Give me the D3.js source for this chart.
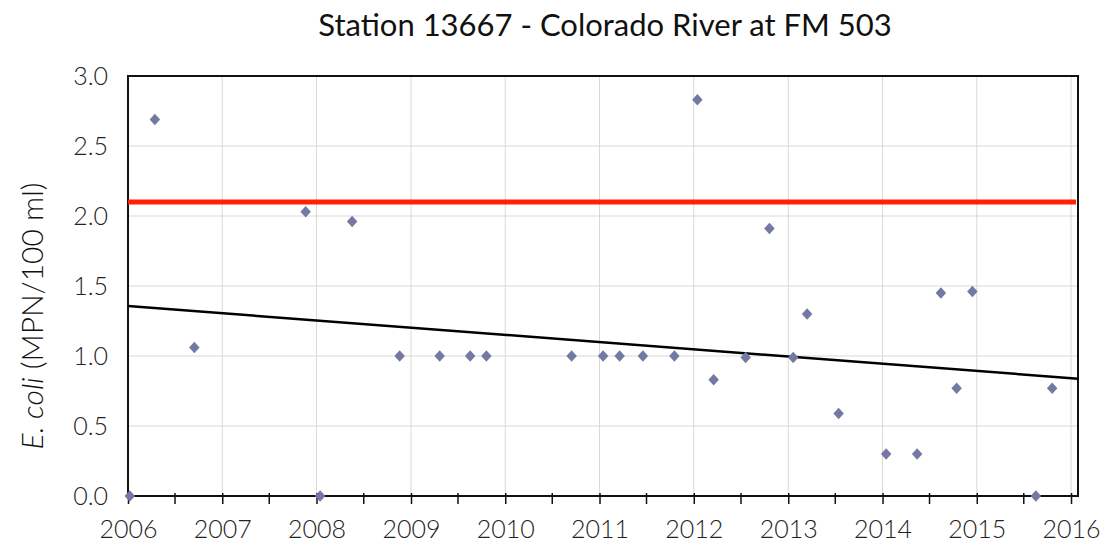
<!DOCTYPE html>
<html lang="en">
<head>
    <meta charset="UTF-8">
    <title>Station 13667 - Colorado River at FM 503</title>
    <style>
        body {
            margin: 0;
            padding: 0;
            background: #fff;
        }

        svg text {
            font-family: Lato, "Open Sans", sans-serif;
            fill: #111;
        }

        .grid line {
            stroke: #d9d9d9;
            stroke-width: 1;
        }

        .axis path, .axis line {
            stroke: #111;
        }

        .axis text {
            font-size: 25px;
            font-weight: 300;
            fill: #222;
        }
    </style>
</head>
<body>
<svg id="chart" width="1120" height="550"></svg>

<script src="https://d3js.org/d3.v7.min.js"></script>
<script>
    // sample dates and log10 E. coli values
    var sampleDates = [
        "2006-01-08", "2006-04-15", "2006-09-15", "2007-11-20", "2008-01-15",
        "2008-05-18", "2008-11-18", "2009-04-22", "2009-08-18", "2009-10-20",
        "2010-09-15", "2011-01-15", "2011-03-20", "2011-06-18", "2011-10-18",
        "2012-01-15", "2012-03-18", "2012-07-20", "2012-10-20", "2013-01-20",
        "2013-03-15", "2013-07-15", "2014-01-15", "2014-05-15", "2014-08-15",
        "2014-10-15", "2014-12-15", "2015-08-18", "2015-10-20"
    ];
    var logValues = [
        0.00, 2.69, 1.06, 2.03, 0.00,
        1.96, 1.00, 1.00, 1.00, 1.00,
        1.00, 1.00, 1.00, 1.00, 1.00,
        2.83, 0.83, 0.99, 1.91, 0.99,
        1.30, 0.59, 0.30, 0.30, 1.45,
        0.77, 1.46, 0.00, 0.77
    ];
    var criterion = 2.1004;               // geometric mean criterion (126 MPN)
    var trendValues = [1.357, 0.838];     // trend line at domain start / end
    var yTicks = [0, 0.5, 1.0, 1.5, 2.0, 2.5, 3.0];
    var yearTicks = d3.range(2006, 2017);

    var parse = d3.timeParse("%Y-%m-%d");
    var points = sampleDates.map(function (d, i) {
        return { date: parse(d), value: logValues[i] };
    });

    var pLeft = 128, pRight = 1078, pTop = 76, pBottom = 496;
    var svg = d3.select("#chart");

    var x = d3.scaleTime()
        .domain([new Date(2006, 0, 1), new Date(2016, 0, 28)])
        .range([pLeft, pRight]);

    var y = d3.scaleLinear()
        .domain([0, 3])
        .range([pBottom, pTop]);

    var yearDates = yearTicks.map(function (yr) { return new Date(yr, 0, 1); });
    var halfDates = yearTicks.slice(0, -1).map(function (yr) { return new Date(yr, 6, 2); });

    // grid
    var grid = svg.append("g").attr("class", "grid");
    grid.selectAll(".vg")
        .data(yearDates.slice(1))
        .enter().append("line")
        .attr("x1", d => x(d)).attr("x2", d => x(d))
        .attr("y1", pTop).attr("y2", pBottom);
    grid.selectAll(".hg")
        .data(yTicks.slice(1))
        .enter().append("line")
        .attr("x1", pLeft).attr("x2", pRight)
        .attr("y1", d => y(d)).attr("y2", d => y(d));

    // plot frame
    svg.append("rect")
        .attr("x", pLeft).attr("y", pTop)
        .attr("width", pRight - pLeft).attr("height", pBottom - pTop)
        .attr("fill", "none")
        .attr("stroke", "#111")
        .attr("stroke-width", 2);

    // x axis
    var xAxis = svg.append("g")
        .attr("class", "axis")
        .attr("transform", "translate(0," + pBottom + ")")
        .call(d3.axisBottom(x)
            .tickValues(yearDates)
            .tickFormat(d3.timeFormat("%Y"))
            .tickSize(8)
            .tickPadding(16));
    xAxis.select(".domain").remove();
    xAxis.selectAll(".tick line").attr("y1", -3).attr("stroke-width", 1.5);

    svg.append("g")
        .attr("class", "axis")
        .selectAll("line")
        .data(halfDates)
        .enter().append("line")
        .attr("x1", d => x(d)).attr("x2", d => x(d))
        .attr("y1", pBottom - 3).attr("y2", pBottom + 8)
        .attr("stroke", "#111")
        .attr("stroke-width", 1.5);

    // y axis
    var yAxis = svg.append("g")
        .attr("class", "axis")
        .attr("transform", "translate(" + pLeft + ",0)")
        .call(d3.axisLeft(y)
            .tickValues(yTicks)
            .tickFormat(d3.format(".1f"))
            .tickSize(0)
            .tickPadding(20));
    yAxis.select(".domain").remove();

    // criterion line
    svg.append("line")
        .attr("x1", pLeft).attr("x2", pRight - 2)
        .attr("y1", y(criterion)).attr("y2", y(criterion))
        .attr("stroke", "#ff2200")
        .attr("stroke-width", 5);

    // trend line
    svg.append("line")
        .attr("x1", x.range()[0]).attr("x2", x.range()[1])
        .attr("y1", y(trendValues[0])).attr("y2", y(trendValues[1]))
        .attr("stroke", "#000")
        .attr("stroke-width", 2.5);

    // samples
    svg.selectAll(".pt")
        .data(points)
        .enter().append("path")
        .attr("class", "pt")
        .attr("d", d3.symbol().type(d3.symbolDiamond2).size(70))
        .attr("transform", d => "translate(" + x(d.date) + "," + y(d.value) + ") scale(1,1.1)")
        .attr("fill", "#7379a2");

    // title
    svg.append("text")
        .attr("x", 605)
        .attr("y", 36)
        .attr("text-anchor", "middle")
        .style("font-size", "31px")
        .text("Station 13667 - Colorado River at FM 503");

    // y label
    var yl = svg.append("text")
        .attr("transform", "translate(43," + ((pTop + pBottom) / 2 + 30) + ") rotate(-90)")
        .attr("text-anchor", "middle")
        .style("font-size", "30px")
        .style("font-weight", 300);
    yl.append("tspan").style("font-style", "italic").text("E. coli");
    yl.append("tspan").text(" (MPN/100 ml)");
</script>
</body>
</html>
